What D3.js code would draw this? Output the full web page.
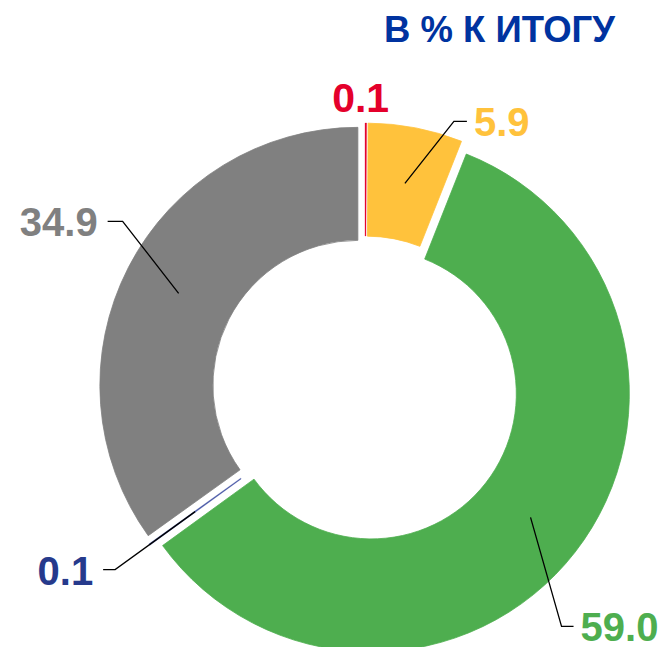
<!DOCTYPE html>
<html>
<head>
<meta charset="utf-8">
<script src="https://cdn.jsdelivr.net/npm/d3@7"></script>
<style>
  html, body { margin: 0; padding: 0; background: #fff; }
  svg { display: block; font-family: "Liberation Sans", Arial, sans-serif; }
</style>
</head>
<body>
<svg id="drawing_region"></svg>
<script>
// shares, in % of total, clockwise from 12 o'clock
const categories = ["a", "b", "c", "d", "e"];
const values = [0.1, 5.9, 59.0, 0.1, 34.9];
const labels = ["0.1", "5.9", "59.0", "0.1", "34.9"];
const colors = ["#e4002b", "#ffc23c", "#4eae4f", "#4a5aa8", "#808080"];
const labelColors = ["#e4002b", "#ffc23c", "#4eae4f", "#263a8c", "#808080"];

const config = {
    width: 670,
    height: 647,
    cx: 365,
    cy: 389,
    inner: 145,
    outer: 258,
    explode: 8,
    title: "В % К ИТОГУ",
};

// leader layout: elbow offset from slice centroid, horizontal tail length (sign = side)
const leaders = [
    null,
    {dx: 49, dy: -62, tail: 13},
    {dx: 31, dy: 109, tail: 12},
    {dx: -80, dy: 58, tail: -12},
    {dx: -56, dy: -72, tail: -15},
];

const svg = d3.select('#drawing_region')
    .attr('width', config.width)
    .attr('height', config.height);

svg.append('text')
    .attr('x', 384)
    .attr('y', 42)
    .style('font-size', '36.5px')
    .style('font-weight', 'bold')
    .style('fill', '#0033a0')
    .text(config.title);

const data = categories.map((c, i) => ({cat: c, value: values[i], label: labels[i], i: i}));

const pie = d3.pie().sort(null).value(d => d.value);
const arc = d3.arc().innerRadius(config.inner).outerRadius(config.outer);
const arcs = pie(data);

const shift = d => {
    const a = (d.startAngle + d.endAngle) / 2;
    return [config.explode * Math.sin(a), -config.explode * Math.cos(a)];
};

const g = svg.append('g')
    .attr('transform', `translate(${config.cx}, ${config.cy})`);

g.selectAll('path')
    .data(arcs)
    .join('path')
    .attr('transform', d => `translate(${shift(d)})`)
    .attr('d', arc)
    .attr('fill', d => colors[d.data.i])
    .attr('stroke', d => colors[d.data.i])
    .attr('stroke-width', d => d.value < 1 ? 0.3 : 0.8);

const lbl = svg.append('g')
    .attr('transform', `translate(${config.cx}, ${config.cy})`);

arcs.forEach(d => {
    const i = d.data.i;
    const s = shift(d);
    const c = arc.centroid(d);
    const p0 = [c[0] + s[0], c[1] + s[1]];
    const L = leaders[i];
    if (!L) {
        // label above the slice
        lbl.append('text')
            .attr('x', p0[0] - 5)
            .attr('y', -config.outer - config.explode - 11)
            .attr('text-anchor', 'middle')
            .style('font-size', '41px')
            .style('font-weight', 'bold')
            .style('fill', labelColors[i])
            .text(d.data.label);
        return;
    }
    const p1 = [p0[0] + L.dx, p0[1] + L.dy];
    const p2 = [p1[0] + L.tail, p1[1]];
    lbl.append('polyline')
        .attr('points', [p0, p1, p2].map(p => p.join(',')).join(' '))
        .attr('fill', 'none')
        .attr('stroke', '#000')
        .attr('stroke-width', 1.3);
    const right = L.tail > 0;
    lbl.append('text')
        .attr('x', p2[0] + (right ? 7 : -10))
        .attr('y', p2[1] + 15)
        .attr('text-anchor', right ? 'start' : 'end')
        .style('font-size', '40px')
        .style('font-weight', 'bold')
        .style('fill', labelColors[i])
        .text(d.data.label);
});
</script>
</body>
</html>
